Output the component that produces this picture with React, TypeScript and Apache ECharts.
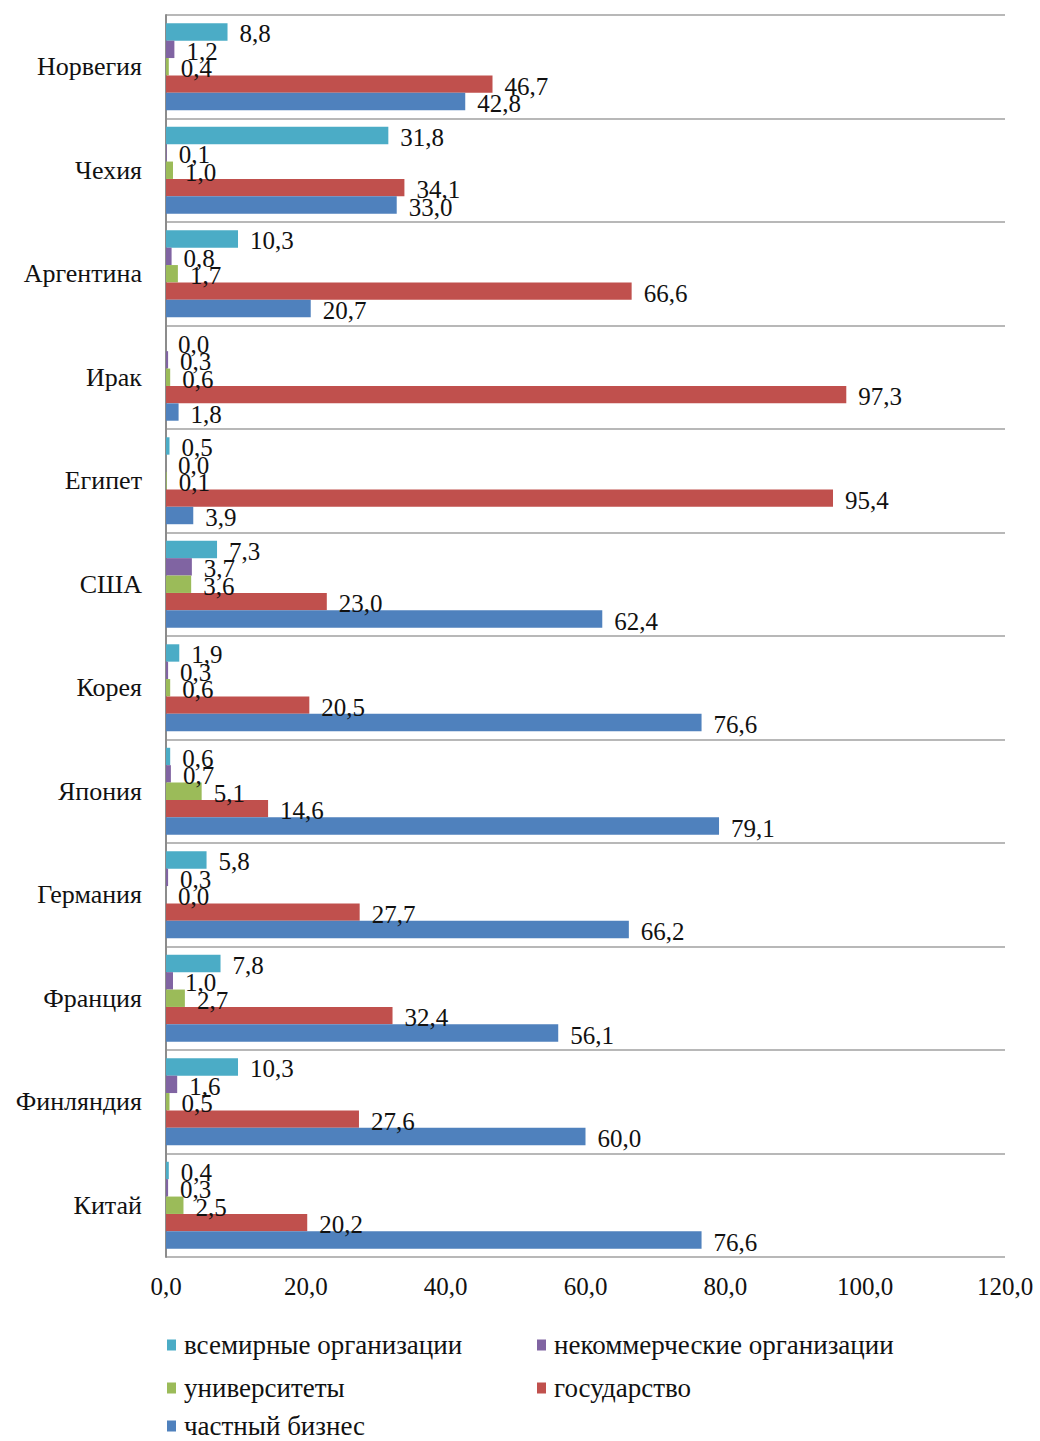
import React, { useEffect, useRef } from "react";
import * as echarts from "echarts";

const categories = ["Норвегия", "Чехия", "Аргентина", "Ирак", "Египет", "США", "Корея", "Япония", "Германия", "Франция", "Финляндия", "Китай"];
const seriesNames = ["всемирные организации", "некоммерческие организации", "университеты", "государство", "частный бизнес"];
const worldOrgs = [8.8, 31.8, 10.3, 0.0, 0.5, 7.3, 1.9, 0.6, 5.8, 7.8, 10.3, 0.4];
const nonProfit = [1.2, 0.1, 0.8, 0.3, 0.0, 3.7, 0.3, 0.7, 0.3, 1.0, 1.6, 0.3];
const universities = [0.4, 1.0, 1.7, 0.6, 0.1, 3.6, 0.6, 5.1, 0.0, 2.7, 0.5, 2.5];
const government = [46.7, 34.1, 66.6, 97.3, 95.4, 23.0, 20.5, 14.6, 27.7, 32.4, 27.6, 20.2];
const business = [42.8, 33.0, 20.7, 1.8, 3.9, 62.4, 76.6, 79.1, 66.2, 56.1, 60.0, 76.6];
const xTicks = { min: 0, max: 120, interval: 20 };

const seriesData = [worldOrgs, nonProfit, universities, government, business];
const colors = ["#4BACC6", "#8064A2", "#9BBB59", "#C0504D", "#4F81BD"];

const FONT = "'Liberation Serif', 'Times New Roman', serif";
const fmt = (v: number) => v.toFixed(1).replace(".", ",");

export default function App() {
  const ref = useRef<HTMLDivElement>(null);
  useEffect(() => {
    if (!ref.current) return;
    const chart = echarts.init(ref.current, null, { renderer: "svg" });
    const legendPos = [
      { left: 167, top: 1331 },
      { left: 537, top: 1331 },
      { left: 167, top: 1374 },
      { left: 537, top: 1374 },
      { left: 167, top: 1412 },
    ];
    chart.setOption({
      animation: false,
      backgroundColor: "#ffffff",
      color: colors,
      grid: { left: 166, right: 35, top: 15, bottom: 184, containLabel: false },
      legend: seriesNames.map((n, i) => ({
        data: [n],
        left: legendPos[i].left,
        top: legendPos[i].top,
        padding: 0,
        itemWidth: 9,
        itemHeight: 11,
        itemGap: 6,
        icon: "rect",
        selectedMode: false,
        textStyle: { fontFamily: FONT, fontSize: 27, lineHeight: 28, color: "#111", padding: [0, 0, 0, 3] },
      })),
      xAxis: {
        type: "value",
        min: xTicks.min,
        max: xTicks.max,
        interval: xTicks.interval,
        axisLine: { show: false },
        axisTick: { show: false },
        splitLine: { show: false },
        axisLabel: {
          formatter: (v: number) => fmt(v),
          fontFamily: FONT,
          fontSize: 25,
          color: "#111",
          margin: 17,
        },
      },
      yAxis: {
        type: "category",
        data: categories,
        inverse: true,
        axisLine: { show: true, lineStyle: { color: "#8c8c8c", width: 2 } },
        axisTick: { show: false },
        splitLine: { show: true, lineStyle: { color: "#a0a0a0", width: 1.5 } },
        axisLabel: { fontFamily: FONT, fontSize: 26, color: "#111", margin: 24 },
      },
      series: seriesNames.map((n, i) => ({
        name: n,
        type: "bar",
        data: seriesData[i],
        barGap: "0%",
        barCategoryGap: "16%",
        itemStyle: { color: colors[i] },
        label: {
          show: true,
          position: "right",
          distance: 12,
          offset: [0, 2],
          formatter: (p: any) => fmt(p.value),
          fontFamily: FONT,
          fontSize: 25,
          color: "#111",
        },
      })),
    });
    return () => chart.dispose();
  }, []);
  return (
    <div
      ref={ref}
      style={{ position: "absolute", left: 0, top: 0, width: 1040, height: 1441, background: "#fff" }}
    />
  );
}
